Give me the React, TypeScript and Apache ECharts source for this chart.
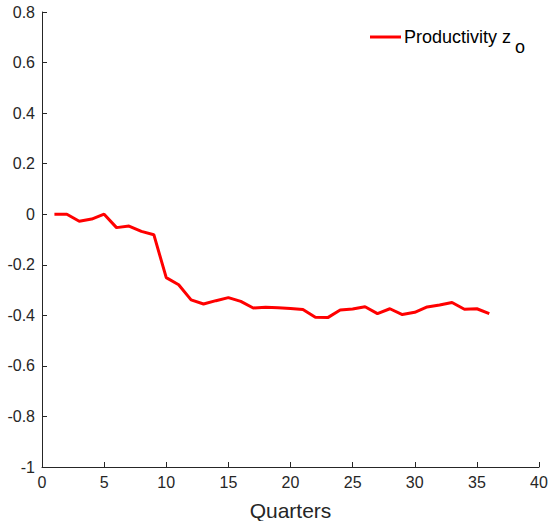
import React, { useEffect, useRef } from "react";
import * as echarts from "echarts";

const quarters = [1,2,3,4,5,6,7,8,9,10,11,12,13,14,15,16,17,18,19,20,21,22,23,24,25,26,27,28,29,30,31,32,33,34,35,36];
const productivity = [0, 0, -0.028, -0.019, 0.0, -0.053, -0.047, -0.068, -0.081, -0.251, -0.279, -0.339, -0.355, -0.342, -0.330, -0.345, -0.371, -0.368, -0.370, -0.373, -0.377, -0.408, -0.409, -0.379, -0.375, -0.366, -0.393, -0.374, -0.397, -0.388, -0.367, -0.359, -0.349, -0.376, -0.374, -0.393];
const seriesName = "Productivity z";
const seriesSub = "o";
const xTitle = "Quarters";

export default function App() {
  const ref = useRef<HTMLDivElement>(null);
  useEffect(() => {
    const chart = echarts.init(ref.current!, null, { renderer: "svg" });
    const font = "'Liberation Sans', Arial, Helvetica, sans-serif";
    chart.setOption({
      animation: false,
      backgroundColor: "#fff",
      grid: { left: 42, right: 11, top: 12, bottom: 54, containLabel: false, outerBoundsMode: "none" },
      graphic: [
        {
          type: "line",
          shape: { x1: 370, y1: 37, x2: 401, y2: 37 },
          style: { stroke: "#ff0000", lineWidth: 3 },
          silent: true,
        },
        {
          type: "text",
          x: 404,
          y: 37,
          style: {
            text: seriesName,
            fontFamily: font,
            fontSize: 18,
            fill: "#000",
            verticalAlign: "middle",
            align: "left",
          },
          silent: true,
        },
        {
          type: "text",
          x: 515,
          y: 47,
          style: {
            text: seriesSub,
            fontFamily: font,
            fontSize: 18,
            fill: "#000",
            verticalAlign: "middle",
            align: "left",
          },
          silent: true,
        },
      ],
      xAxis: {
        type: "value",
        min: 0,
        max: 40,
        interval: 5,
        name: xTitle,
        nameLocation: "middle",
        nameGap: 33,
        nameTextStyle: { fontFamily: font, fontSize: 21, color: "#262626" },
        axisLine: { onZero: false, lineStyle: { color: "#262626", width: 1 } },
        axisTick: { inside: true, length: 5, lineStyle: { color: "#262626" } },
        axisLabel: { fontFamily: font, fontSize: 16, color: "#262626", margin: 7 },
        splitLine: { show: false },
      },
      yAxis: {
        type: "value",
        min: -1,
        max: 0.8,
        interval: 0.2,
        axisLine: { show: true, onZero: false, lineStyle: { color: "#262626", width: 1 } },
        axisTick: { show: true, inside: true, length: 5, lineStyle: { color: "#262626" } },
        axisLabel: {
          fontFamily: font,
          fontSize: 16,
          color: "#262626",
          margin: 7,
          formatter: (v: number) => {
            const r = Math.round(v * 10) / 10;
            return r === 0 ? "0" : String(r);
          },
        },
        splitLine: { show: false },
      },
      series: [
        {
          name: seriesName + seriesSub,
          type: "line",
          data: quarters.map((q, i) => [q, productivity[i]]),
          showSymbol: false,
          symbol: "none",
          color: "#ff0000",
          lineStyle: { color: "#ff0000", width: 3 },
        },
      ],
    });
    return () => chart.dispose();
  }, []);
  return <div ref={ref} style={{ width: 550, height: 521, position: "absolute", left: 0, top: 0 }} />;
}
